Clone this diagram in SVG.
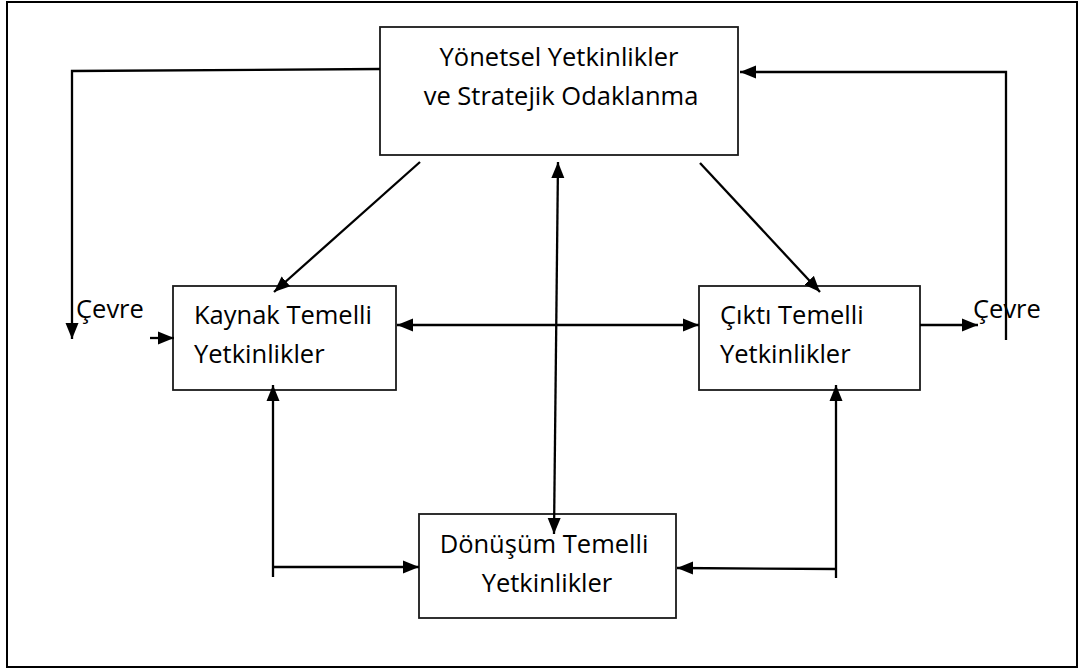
<svg xmlns="http://www.w3.org/2000/svg" width="1088" height="669" viewBox="0 0 1088 669">
  <style>
    .frame { fill: #ffffff; stroke: #000000; stroke-width: 2; }
    .box { fill: #ffffff; stroke: #1a1a1a; stroke-width: 1.8; }
    .label { font-family: "Open Sans", "Noto Sans", "Liberation Sans", sans-serif; font-size: 25.5px; fill: #000000; }
    .mid { text-anchor: middle; }
    .wire { fill: none; stroke: #000000; stroke-width: 2.3; }
    .arrow { marker-end: url(#head); }
    .both { marker-start: url(#tail); marker-end: url(#head); }
  </style>
  <defs>
    <marker id="head" markerUnits="userSpaceOnUse" markerWidth="17" markerHeight="14" refX="16" refY="7" orient="auto">
      <path d="M0,0.5 L16,7 L0,13.5 z" fill="#000000"/>
    </marker>
    <marker id="tail" markerUnits="userSpaceOnUse" markerWidth="17" markerHeight="14" refX="0" refY="7" orient="auto">
      <path d="M16,0.5 L0,7 L16,13.5 z" fill="#000000"/>
    </marker>
  </defs>

  <rect class="frame" x="7" y="2" width="1070" height="665"/>

  <g id="node-yonetsel">
    <rect class="box" x="380" y="27" width="358" height="128"/>
    <text class="label mid" x="559" y="66">Yönetsel Yetkinlikler</text>
    <text class="label mid" x="561" y="105">ve Stratejik Odaklanma</text>
  </g>

  <g id="node-kaynak">
    <rect class="box" x="173" y="286" width="223" height="104"/>
    <text class="label" x="194" y="324">Kaynak Temelli</text>
    <text class="label" x="194" y="363">Yetkinlikler</text>
  </g>

  <g id="node-cikti">
    <rect class="box" x="699" y="286" width="221" height="104"/>
    <text class="label" x="720" y="324">Çıktı Temelli</text>
    <text class="label" x="720" y="363">Yetkinlikler</text>
  </g>

  <g id="node-donusum">
    <rect class="box" x="419" y="514" width="257" height="104"/>
    <text class="label mid" x="544" y="553">Dönüşüm Temelli</text>
    <text class="label mid" x="547" y="592">Yetkinlikler</text>
  </g>

  <g id="env-left">
    <text class="label" x="76" y="318">Çevre</text>
  </g>
  <g id="env-right">
    <text class="label" x="973" y="318">Çevre</text>
  </g>

  <g id="connectors">
    <!-- management box out to the left environment -->
    <path class="wire arrow" d="M380,69 L72,71 L72,339"/>
    <!-- right environment back into the management box -->
    <path class="wire arrow" d="M1006,340 L1006,72 L740,72"/>
    <!-- environment into resource-based box -->
    <line class="wire arrow" x1="150" y1="338" x2="174" y2="338"/>
    <!-- management to resource / output boxes -->
    <line class="wire arrow" x1="420" y1="162" x2="274" y2="292"/>
    <line class="wire arrow" x1="700" y1="163" x2="820" y2="292"/>
    <!-- management <-> transformation -->
    <line class="wire both" x1="558" y1="162" x2="554" y2="534"/>
    <!-- resource <-> output -->
    <line class="wire both" x1="397" y1="325" x2="699" y2="325"/>
    <!-- output out to the right environment -->
    <line class="wire arrow" x1="920" y1="325" x2="978" y2="325"/>
    <!-- resource <-> transformation -->
    <path class="wire arrow" d="M273,577 L273,385"/>
    <path class="wire arrow" d="M272,567 L419,567"/>
    <!-- output <-> transformation -->
    <path class="wire arrow" d="M836,578 L836,385"/>
    <path class="wire arrow" d="M837,569 L677,568"/>
  </g>
</svg>
